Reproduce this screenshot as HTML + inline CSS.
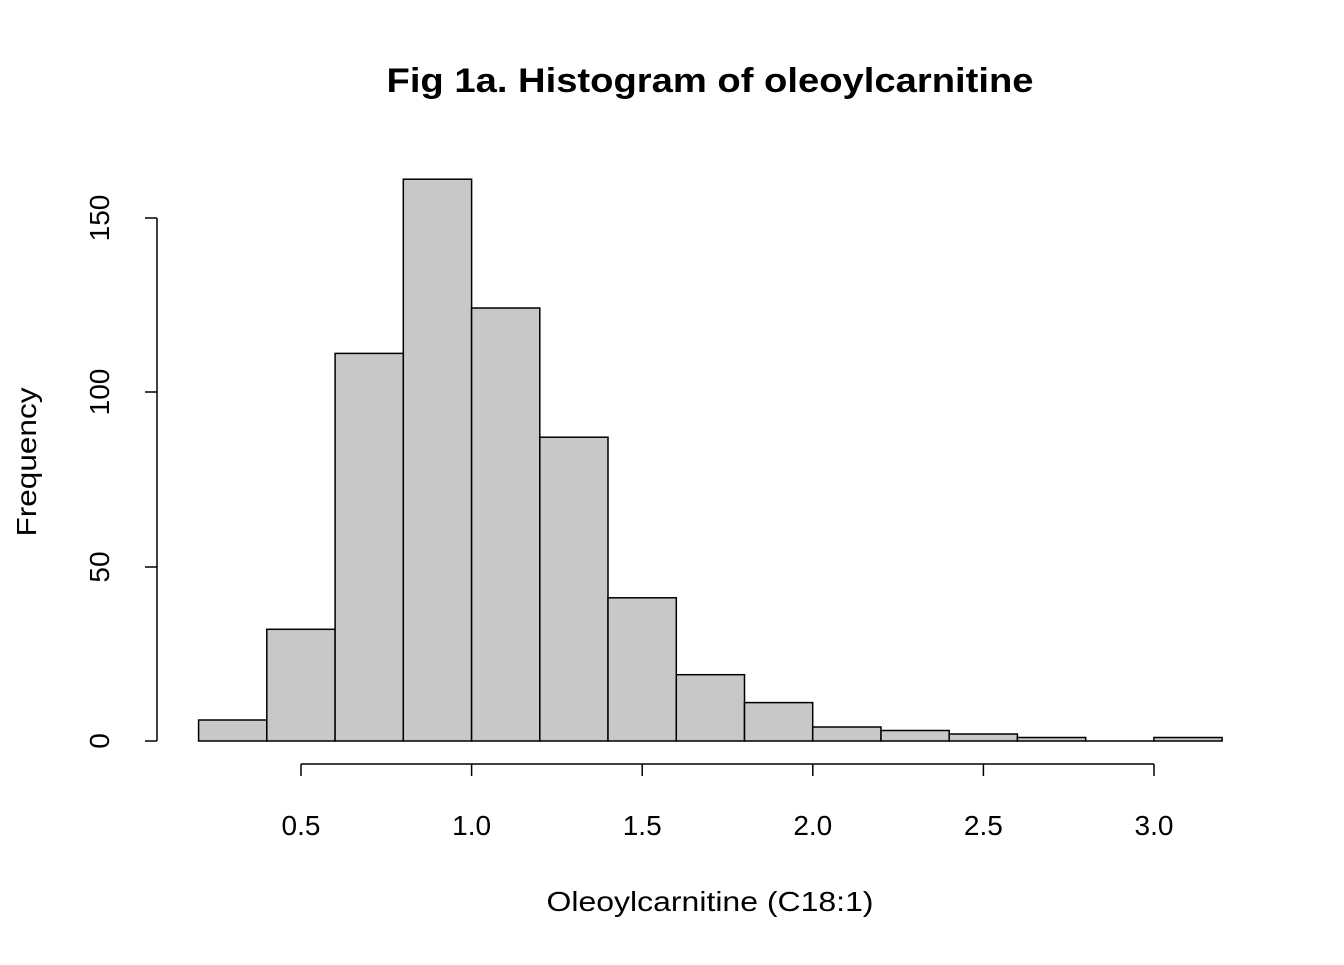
<!DOCTYPE html>
<html><head><meta charset="utf-8"><style>body{margin:0;background:#fff}</style></head><body>
<svg width="1344" height="960" xmlns="http://www.w3.org/2000/svg" font-family="Liberation Sans, Arial, sans-serif">
<rect width="1344" height="960" fill="#fff"/>
<text x="710" y="92" font-size="34" font-weight="bold" text-anchor="middle" textLength="647" lengthAdjust="spacingAndGlyphs">Fig 1a. Histogram of oleoylcarnitine</text>
<g fill="#c8c8c8" stroke="#000" stroke-width="1.5">
<rect x="198.6" y="720" width="68.2" height="21"/>
<rect x="266.8" y="629.3" width="68.3" height="111.7"/>
<rect x="335.1" y="353.4" width="68.2" height="387.6"/>
<rect x="403.3" y="179.2" width="68.3" height="561.8"/>
<rect x="471.6" y="308" width="68.2" height="433"/>
<rect x="539.8" y="437.2" width="68.2" height="303.8"/>
<rect x="608" y="597.8" width="68.3" height="143.2"/>
<rect x="676.3" y="674.7" width="68.2" height="66.3"/>
<rect x="744.5" y="702.6" width="68.2" height="38.4"/>
<rect x="812.7" y="727" width="68.3" height="14"/>
<rect x="881" y="730.5" width="68.2" height="10.5"/>
<rect x="949.2" y="734" width="68.2" height="7"/>
<rect x="1017.4" y="737.5" width="68.3" height="3.5"/>
<line x1="1085.7" y1="741" x2="1153.9" y2="741"/>
<rect x="1153.9" y="737.5" width="68.2" height="3.5"/>
</g>
<g stroke="#000" stroke-width="1.5" fill="none">
<line x1="157" y1="218" x2="157" y2="741"/>
<line x1="145" y1="741" x2="157" y2="741"/>
<line x1="145" y1="567" x2="157" y2="567"/>
<line x1="145" y1="392" x2="157" y2="392"/>
<line x1="145" y1="218" x2="157" y2="218"/>
<line x1="301" y1="764" x2="1154" y2="764"/>
<line x1="301" y1="764" x2="301" y2="776"/>
<line x1="471.6" y1="764" x2="471.6" y2="776"/>
<line x1="642.2" y1="764" x2="642.2" y2="776"/>
<line x1="812.8" y1="764" x2="812.8" y2="776"/>
<line x1="983.4" y1="764" x2="983.4" y2="776"/>
<line x1="1154" y1="764" x2="1154" y2="776"/>
</g>
<g font-size="28" text-anchor="middle">
<text x="301" y="835">0.5</text>
<text x="471.6" y="835">1.0</text>
<text x="642.2" y="835">1.5</text>
<text x="812.8" y="835">2.0</text>
<text x="983.4" y="835">2.5</text>
<text x="1154" y="835">3.0</text>
<text transform="translate(109,741) rotate(-90)">0</text>
<text transform="translate(109,567) rotate(-90)">50</text>
<text transform="translate(109,392) rotate(-90)">100</text>
<text transform="translate(109,218) rotate(-90)">150</text>
<text x="710" y="911" textLength="327" lengthAdjust="spacingAndGlyphs">Oleoylcarnitine (C18:1)</text>
<text transform="translate(36,462) rotate(-90)" textLength="149" lengthAdjust="spacingAndGlyphs">Frequency</text>
</g>
</svg>
</body></html>
